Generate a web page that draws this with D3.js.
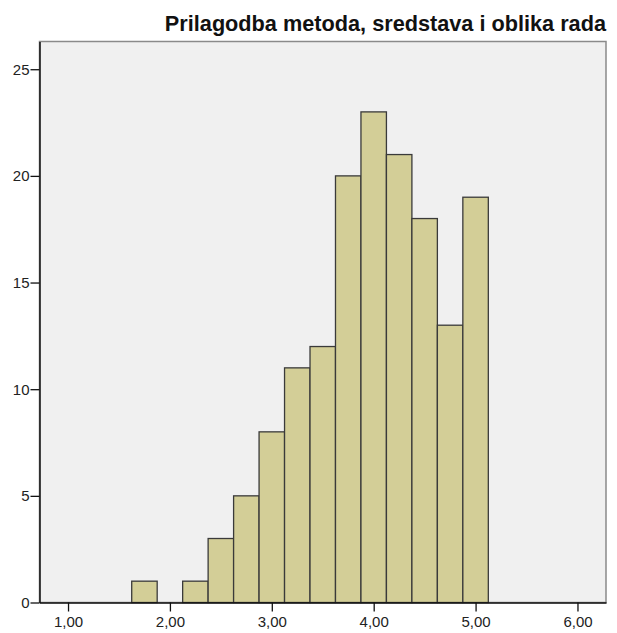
<!DOCTYPE html>
<html>
<head>
<meta charset="utf-8">
<script src="https://cdn.jsdelivr.net/npm/d3@7"></script>
<style>
  body { margin: 0; background: #fff; }
  text { font-family: "Liberation Sans", Arial, sans-serif; }
</style>
</head>
<body>
<div id="chart"></div>
<script>
// data
var binStarts = [1.625, 2.125, 2.375, 2.625, 2.875, 3.125, 3.375, 3.625, 3.875, 4.125, 4.375, 4.625, 4.875];
var counts = [1, 1, 3, 5, 8, 11, 12, 20, 23, 21, 18, 13, 19];
var binWidth = 0.25;
var xTicks = [1, 2, 3, 4, 5, 6];
var yTicks = [0, 5, 10, 15, 20, 25];
var title = 'Prilagodba metoda, sredstava i oblika rada';

// canvas
const width = 617, height = 633;
const margin = {top: 41.5, right: 11, bottom: 30.5, left: 39.5};

var svg = d3.select('#chart').append('svg')
  .attr('width', width)
  .attr('height', height);

var x = d3.scaleLinear()
  .domain([0.72, 6.28])
  .range([margin.left, width - margin.right]);
var y = d3.scaleLinear()
  .domain([0, 26.3])
  .range([height - margin.bottom, margin.top]);

// plot background + frame
svg.append('rect')
  .attr('x', margin.left)
  .attr('y', margin.top)
  .attr('width', width - margin.right - margin.left)
  .attr('height', height - margin.bottom - margin.top)
  .style('fill', '#f0f0f0')
  .style('stroke', '#8a8a8a')
  .style('stroke-width', 1.5);

// bars
svg.selectAll('rect.bar')
  .data(counts)
  .enter()
  .append('rect')
  .attr('class', 'bar')
  .attr('x', (d, i) => x(binStarts[i]))
  .attr('width', (d, i) => x(binStarts[i] + binWidth) - x(binStarts[i]))
  .attr('y', d => y(d))
  .attr('height', d => y(0) - y(d))
  .style('fill', '#d3ce97')
  .style('stroke', '#3a3a3a')
  .style('stroke-width', 1.3);

// axes
var xAxis = d3.axisBottom(x)
  .tickValues(xTicks)
  .tickSizeInner(9)
  .tickSizeOuter(0)
  .tickPadding(5)
  .tickFormat(d => d3.format('.2f')(d).replace('.', ','));
var yAxis = d3.axisLeft(y)
  .tickValues(yTicks)
  .tickSizeInner(9)
  .tickSizeOuter(0)
  .tickPadding(1);

var gx = svg.append('g')
  .attr('transform', `translate(0, ${y(0)})`)
  .call(xAxis);
var gy = svg.append('g')
  .attr('transform', `translate(${margin.left}, 0)`)
  .call(yAxis);

[gx, gy].forEach(function(g) {
  g.select('.domain').style('stroke', '#111').style('stroke-width', 1.5);
  g.selectAll('.tick line').style('stroke', '#111').style('stroke-width', 1.3);
  g.selectAll('.tick text')
    .style('font-size', '15px')
    .style('fill', '#222')
    .style('font-family', '"Liberation Sans", Arial, sans-serif');
});

// title
svg.append('text')
  .attr('x', width - margin.right)
  .attr('y', 31)
  .style('text-anchor', 'end')
  .style('font-weight', 'bold')
  .style('font-size', '21.7px')
  .style('fill', '#111')
  .text(title);
</script>
</body>
</html>
